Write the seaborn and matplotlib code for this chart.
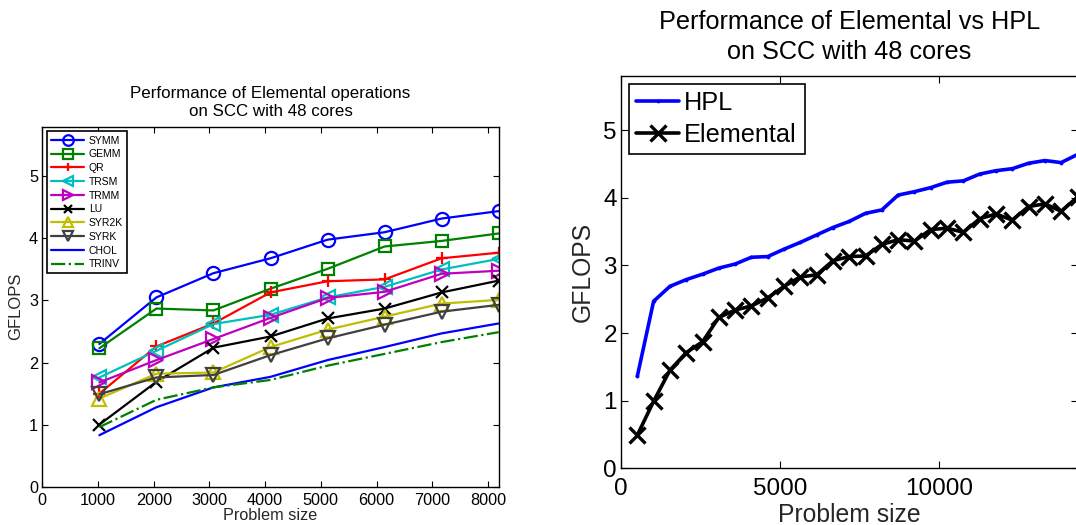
import numpy as np
import pandas as pd
import matplotlib
matplotlib.use("Agg")
import matplotlib.pyplot as plt
import seaborn as sns

# ---------------- data: left panel ----------------
sizes_left = [1024, 2048, 3072, 4096, 5120, 6144, 7168, 8192]
symm  = [2.30, 3.05, 3.44, 3.68, 3.98, 4.10, 4.32, 4.44]
gemm  = [2.23, 2.87, 2.84, 3.19, 3.51, 3.87, 3.96, 4.08]
qr    = [1.50, 2.26, 2.63, 3.13, 3.31, 3.34, 3.68, 3.77]
trsm  = [1.76, 2.19, 2.62, 2.77, 3.05, 3.22, 3.50, 3.67]
trmm  = [1.68, 2.04, 2.38, 2.72, 3.04, 3.14, 3.43, 3.48]
lu    = [1.00, 1.69, 2.24, 2.42, 2.71, 2.87, 3.13, 3.32]
syr2k = [1.42, 1.82, 1.84, 2.25, 2.53, 2.74, 2.95, 3.01]
syrk  = [1.49, 1.76, 1.80, 2.12, 2.39, 2.61, 2.82, 2.93]
chol  = [0.83, 1.28, 1.60, 1.77, 2.04, 2.25, 2.47, 2.63]
trinv = [0.96, 1.40, 1.60, 1.72, 1.95, 2.14, 2.33, 2.49]
left_names = ["SYMM", "GEMM", "QR", "TRSM", "TRMM", "LU", "SYR2K", "SYRK", "CHOL", "TRINV"]
left_values = [symm, gemm, qr, trsm, trmm, lu, syr2k, syrk, chol, trinv]

# ---------------- data: right panel ----------------
sizes_right = [512 * k for k in range(1, 29)]
hpl = [1.36, 2.47, 2.69, 2.79, 2.87, 2.96, 3.02, 3.12, 3.13, 3.24,
       3.34, 3.45, 3.56, 3.65, 3.77, 3.82, 4.04, 4.09, 4.15, 4.23,
       4.25, 4.35, 4.40, 4.43, 4.51, 4.55, 4.52, 4.64]
elemental = [0.49, 0.99, 1.45, 1.71, 1.87, 2.23, 2.34, 2.40, 2.52, 2.69,
             2.83, 2.86, 3.07, 3.13, 3.14, 3.31, 3.38, 3.36, 3.53, 3.55,
             3.49, 3.69, 3.76, 3.67, 3.87, 3.91, 3.80, 4.01]

left_title = "Performance of Elemental operations\non SCC with 48 cores"
right_title = "Performance of Elemental vs HPL\non SCC with 48 cores"
xlabel = "Problem size"
ylabel = "GFLOPS"

# ---------------- style ----------------
sns.set_style("white")
plt.rcParams["font.family"] = ["Liberation Sans", "DejaVu Sans"]
plt.rcParams["xtick.direction"] = "in"
plt.rcParams["ytick.direction"] = "in"
plt.rcParams["axes.edgecolor"] = "black"
plt.rcParams["axes.linewidth"] = 1.0
plt.rcParams["text.color"] = "black"
plt.rcParams["xtick.color"] = "black"
plt.rcParams["ytick.color"] = "black"

W, H = 1076, 525
fig = plt.figure(figsize=(W / 100, H / 100), dpi=100)

def px_axes(x0, y0, x1, y1):
    return fig.add_axes([x0 / W, 1 - y1 / H, (x1 - x0) / W, (y1 - y0) / H])

axL = px_axes(42.3, 126.7, 498.7, 486.7)
axR = px_axes(621, 76, 1077.5, 468.3)

styles = {
    "SYMM":  dict(color=(0, 0, 1), marker="o", ls="-"),
    "GEMM":  dict(color=(0, 0.5, 0), marker="s", ls="-"),
    "QR":    dict(color=(1, 0, 0), marker="+", ls="-"),
    "TRSM":  dict(color=(0, 0.75, 0.75), marker="<", ls="-"),
    "TRMM":  dict(color=(0.75, 0, 0.75), marker=">", ls="-"),
    "LU":    dict(color=(0, 0, 0), marker="x", ls="-"),
    "SYR2K": dict(color=(0.75, 0.75, 0), marker="^", ls="-"),
    "SYRK":  dict(color=(0.25, 0.25, 0.25), marker="v", ls="-"),
    "CHOL":  dict(color=(0, 0, 1), marker=None, ls="-"),
    "TRINV": dict(color=(0, 0.5, 0), marker=None, ls="-."),
}

for name, vals in zip(left_names, left_values):
    st = styles[name]
    kw = dict(x=sizes_left, y=vals, ax=axL, color=st["color"], linestyle=st["ls"],
              linewidth=1.6, label=name)
    if st["marker"] is not None:
        ms = 9.5
        if st["marker"] in ("+", "x"):
            ms = 8
        if st["marker"] == "s":
            ms = 8.5
        kw.update(marker=st["marker"], markersize=ms, markerfacecolor="none",
                  markeredgecolor=st["color"], markeredgewidth=1.6)
    sns.lineplot(**kw)

axL.set_xlim(0, 8192)
axL.set_ylim(0, 5.8)
axL.set_xticks(range(0, 8001, 1000))
axL.set_yticks(range(0, 6))
axL.tick_params(axis="both", which="both", labelsize=11.7, length=4, width=0.8,
                top=True, right=True, bottom=True, left=True, pad=3)
axL.tick_params(axis="x", pad=4.5)
axL.set_title(left_title, fontsize=12.2, pad=8, linespacing=1.25)
axL.set_xlabel(xlabel, fontsize=11.7, labelpad=0)
axL.set_ylabel(ylabel, fontsize=12, labelpad=4)
legL = axL.legend(loc="upper left", fontsize=7.5, frameon=True, fancybox=False,
                  edgecolor="black", framealpha=1, borderaxespad=0.45,
                  handlelength=3.2, labelspacing=0.36, borderpad=0.4,
                  handletextpad=0.4, markerscale=0.8)
legL.get_frame().set_linewidth(1.2)

# right panel
sns.lineplot(x=sizes_right, y=hpl, ax=axR, color=(0, 0, 1), linewidth=2.6,
             marker=".", markersize=4, markeredgecolor=(0, 0, 1),
             markerfacecolor=(0, 0, 1), label="HPL")
sns.lineplot(x=sizes_right, y=elemental, ax=axR, color="black", linewidth=2.6,
             marker="x", markersize=11, markeredgecolor="black",
             markeredgewidth=2.4, label="Elemental")
axR.set_xlim(0, 14336)
axR.set_ylim(0, 5.8)
axR.set_xticks([0, 5000, 10000])
axR.set_yticks(range(0, 6))
axR.tick_params(axis="both", which="both", labelsize=17.5, length=5, width=0.8,
                top=True, right=True, bottom=True, left=True, pad=3)
axR.tick_params(axis="x", pad=7)
axR.set_title(right_title, fontsize=18.2, pad=12, linespacing=1.35)
axR.set_xlabel(xlabel, fontsize=17.8, labelpad=2)
axR.set_ylabel(ylabel, fontsize=17.8, labelpad=6)
legR = axR.legend(loc="upper left", fontsize=18.2, frameon=True, fancybox=False,
                  edgecolor="black", framealpha=1, borderaxespad=0.3,
                  handlelength=1.7, labelspacing=0.3, borderpad=0.3,
                  handletextpad=0.2)
legR.get_frame().set_linewidth(1.2)

for ax in (axL, axR):
    for sp in ax.spines.values():
        sp.set_visible(True)
        sp.set_color("black")

fig.savefig("out.png", dpi=100)
